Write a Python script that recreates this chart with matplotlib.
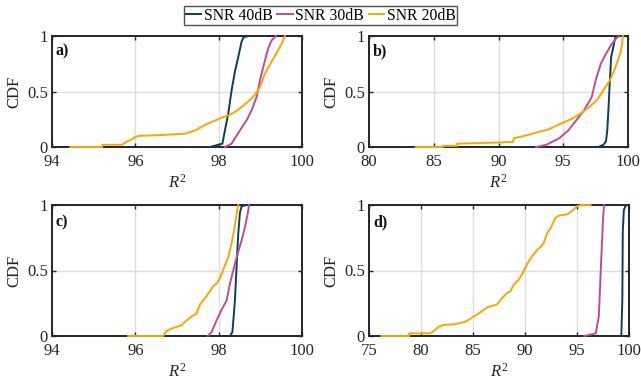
import matplotlib
matplotlib.use("Agg")
import matplotlib.pyplot as plt
from matplotlib.lines import Line2D

plt.rcParams['font.family'] = ['Liberation Serif', 'DejaVu Serif']
plt.rcParams['mathtext.fontset'] = 'custom'
plt.rcParams['mathtext.rm'] = 'Liberation Serif'
plt.rcParams['mathtext.it'] = 'Liberation Serif:italic'
plt.rcParams['font.size'] = 12

series_names = ['SNR 40dB', 'SNR 30dB', 'SNR 20dB']
colors = ['#0a3d5e', '#bd4c9b', '#ffa500']
panel_labels = ['a)', 'b)', 'c)', 'd)']
xlims = [(94, 100), (80, 100), (94, 100), (75, 100)]
xticks = [[94, 96, 98, 100], [80, 85, 90, 95, 100], [94, 96, 98, 100], [75, 80, 85, 90, 95, 100]]
yticks = [0, 0.5, 1]
ytick_labels = ['0', '0.5', '1']

# Panel a
a40_x = [97.79, 97.99, 98.09, 98.15, 98.23, 98.31, 98.39, 98.47, 98.55, 98.60, 98.73]
a40_y = [0.0, 0.02, 0.03, 0.15, 0.30, 0.51, 0.68, 0.81, 0.95, 0.99, 1.0]
a30_x = [98.15, 98.31, 98.51, 98.67, 98.79, 98.91, 98.99, 99.09, 99.19, 99.27, 99.37]
a30_y = [0.0, 0.03, 0.15, 0.24, 0.33, 0.45, 0.60, 0.75, 0.89, 0.96, 1.0]
a20_x = [94.44, 95.20, 95.21, 95.68, 95.80, 95.92, 96.00, 96.08, 96.72, 97.20, 97.44,
         97.68, 97.92, 98.11, 98.27, 98.45, 98.71, 98.87, 98.99, 99.11, 99.27, 99.41, 99.51, 99.59]
a20_y = [0.0, 0.0, 0.02, 0.02, 0.05, 0.07, 0.09, 0.10, 0.11, 0.12, 0.15,
         0.20, 0.24, 0.27, 0.29, 0.33, 0.41, 0.47, 0.54, 0.66, 0.77, 0.86, 0.93, 1.0]

# Panel b
b40_x = [97.7, 98.1, 98.3, 98.4, 98.5, 98.6, 98.7, 98.9, 99.0, 99.3]
b40_y = [0.0, 0.02, 0.05, 0.15, 0.36, 0.60, 0.81, 0.92, 0.98, 1.0]
b30_x = [92.9, 93.7, 94.7, 95.4, 96.0, 96.6, 97.2, 97.5, 97.9, 98.3, 98.7, 99.1, 99.3]
b30_y = [0.0, 0.02, 0.08, 0.15, 0.24, 0.33, 0.45, 0.60, 0.75, 0.84, 0.92, 0.98, 1.0]
b20_x = [83.6, 85.7, 85.71, 86.8, 86.81, 89.9, 90.9, 91.1, 91.2, 92.0, 92.9, 93.9, 94.8,
         95.6, 96.3, 96.9, 97.6, 98.2, 98.6, 99.0, 99.4, 99.55, 99.6]
b20_y = [0.0, 0.0, 0.01, 0.01, 0.03, 0.04, 0.045, 0.045, 0.08, 0.10, 0.13, 0.16, 0.21,
         0.25, 0.30, 0.35, 0.42, 0.53, 0.60, 0.71, 0.84, 0.93, 1.0]

# Panel c
c40_x = [98.27, 98.33, 98.39, 98.43, 98.47, 98.51, 98.55, 98.67]
c40_y = [0.0, 0.03, 0.27, 0.53, 0.78, 0.94, 0.99, 1.0]
c30_x = [97.74, 97.83, 97.95, 98.07, 98.19, 98.27, 98.35, 98.43, 98.55, 98.63, 98.70, 98.73]
c30_y = [0.0, 0.03, 0.12, 0.20, 0.27, 0.40, 0.50, 0.60, 0.73, 0.83, 0.94, 1.0]
c20_x = [95.82, 96.67, 96.75, 96.90, 97.10, 97.20, 97.35, 97.47, 97.55, 97.70, 97.87,
         97.95, 98.03, 98.15, 98.23, 98.31, 98.37, 98.42, 98.47]
c20_y = [0.0, 0.0, 0.04, 0.06, 0.08, 0.11, 0.15, 0.17, 0.24, 0.30, 0.38,
         0.40, 0.44, 0.54, 0.60, 0.71, 0.81, 0.91, 1.0]

# Panel d
d40_x = [99.26, 99.36, 99.40, 99.50, 99.70]
d40_y = [0.0, 0.28, 0.79, 0.96, 1.0]
d30_x = [95.7, 96.8, 97.1, 97.3, 97.5, 97.6]
d30_y = [0.0, 0.02, 0.15, 0.53, 0.89, 1.0]
d20_x = [76.2, 78.85, 78.86, 80.77, 81.1, 81.7, 82.2, 83.3, 84.3, 85.1, 85.7, 86.4, 87.3,
         87.8, 88.3, 88.6, 88.9, 89.4, 89.7, 89.9, 90.2, 90.7, 91.2, 91.5, 91.8, 92.1,
         92.5, 92.9, 93.3, 94.1, 94.6, 95.0, 95.4, 96.3]
d20_y = [0.0, 0.0, 0.02, 0.02, 0.03, 0.07, 0.085, 0.09, 0.11, 0.15, 0.18, 0.22, 0.24,
         0.29, 0.33, 0.34, 0.39, 0.43, 0.47, 0.50, 0.55, 0.61, 0.66, 0.68, 0.71, 0.78,
         0.83, 0.90, 0.92, 0.93, 0.96, 0.99, 1.0, 1.0]

panels = [
    [(a40_x, a40_y), (a30_x, a30_y), (a20_x, a20_y)],
    [(b40_x, b40_y), (b30_x, b30_y), (b20_x, b20_y)],
    [(c40_x, c40_y), (c30_x, c30_y), (c20_x, c20_y)],
    [(d40_x, d40_y), (d30_x, d30_y), (d20_x, d20_y)],
]

W, H = 641, 386
fig = plt.figure(figsize=(W / 100, H / 100), dpi=100)

# axes boxes in pixels: left, top, right, bottom
boxes = [(52, 36, 302, 147), (369, 36, 628, 147), (52, 205, 302, 336), (369, 205, 629, 336)]

frame_col = '#262626'
for i, (l, t, r, b) in enumerate(boxes):
    ax = fig.add_axes([l / W, 1 - b / H, (r - l) / W, (b - t) / H])
    for j, (xs, ys) in enumerate(panels[i]):
        ax.plot(xs, ys, color=colors[j], lw=1.4, solid_joinstyle='miter',
                zorder=3, clip_on=False)
    ax.set_xlim(*xlims[i])
    ax.set_ylim(0, 1)
    ax.set_xticks(xticks[i])
    ax.set_yticks(yticks)
    ax.set_yticklabels(ytick_labels)
    ax.grid(True, color='#dedede', lw=1.0)
    ax.set_axisbelow(True)
    ax.tick_params(direction='in', top=True, right=True, length=3, width=1.0,
                   color=frame_col, labelsize=12, labelcolor='#262626')
    ax.tick_params(axis='x', pad=5)
    ax.tick_params(axis='y', pad=3)
    for s in ax.spines.values():
        s.set_linewidth(1.4)
        s.set_color(frame_col)
        s.set_zorder(2.5)
    ax.set_ylabel('CDF', fontsize=12, color='#262626', labelpad=3)
    ax.set_xlabel('$R^2$', fontsize=12, color='#262626', labelpad=3)
    ax.text(0.015, 0.865, panel_labels[i], transform=ax.transAxes, fontsize=11.5,
            fontweight='bold', va='center', ha='left', color='#111111')

handles = [Line2D([], [], color=c, lw=1.4) for c in colors]
leg = fig.legend(handles, series_names, loc='center', bbox_to_anchor=(0.5, 1 - 15.5 / H),
                 ncol=3, frameon=True, fancybox=False, fontsize=11.3, handlelength=1.0,
                 handletextpad=0.15, columnspacing=0.3, borderpad=0.1, borderaxespad=0)
leg.get_frame().set_edgecolor('#262626')
leg.get_frame().set_linewidth(1.0)

fig.savefig('out.png', dpi=100)
